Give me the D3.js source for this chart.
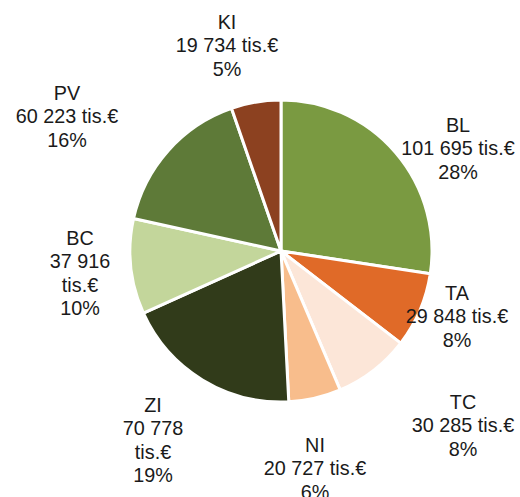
<!DOCTYPE html>
<html>
<head>
<meta charset="utf-8">
<script src="https://cdn.jsdelivr.net/npm/d3@7/dist/d3.min.js"></script>
<style>
  html, body { margin: 0; padding: 0; background: #fff; }
  svg { display: block; }
  text { font-family: "Liberation Sans", Arial, sans-serif; fill: #1a1a1a; }
</style>
</head>
<body>
<svg id="chart" width="520" height="497"></svg>
<script>
// Budget split by region (thousands of euro), clockwise from 12 o'clock
const regions = ["BL", "TA", "TC", "NI", "ZI", "BC", "PV", "KI"];
const amounts = [101695, 29848, 30285, 20727, 70778, 37916, 60223, 19734];
const amountText = ["101 695", "29 848", "30 285", "20 727", "70 778", "37 916", "60 223", "19 734"];
const shareText = ["28%", "8%", "8%", "6%", "19%", "10%", "16%", "5%"];
// whether the value and unit are wrapped onto separate lines
const wrapUnit = [false, false, false, false, true, true, false, false];

const colors = ["#7a9a41", "#e06a28", "#fce6d8", "#f8bd8c", "#313b1a", "#c3d69b", "#5e7a38", "#8c4120"];

// label anchor offsets from the pie centre (centre of first line)
const labelOffset = [
  [177, -126], [176, 42], [182, 151], [34, 194],
  [-128, 154], [-201, -13], [-214, -158], [-54, -229]
];

const width = 520, height = 497;
const cx = 281, cy = 251, radius = 151;
const lineH = 23.3;

const svg = d3.select("#chart");
const g = svg.append("g").attr("transform", `translate(${cx},${cy})`);

const data = regions.map((r, i) => ({ region: r, value: amounts[i], i }));

const pie = d3.pie().sort(null).value(d => d.value);
const arc = d3.arc().innerRadius(0).outerRadius(radius);

const color = d3.scaleOrdinal().domain(regions).range(colors);

g.selectAll("path.slice")
  .data(pie(data))
  .join("path")
  .attr("class", "slice")
  .attr("d", arc)
  .attr("fill", d => color(d.data.region))
  .attr("stroke", "#ffffff")
  .attr("stroke-width", 3)
  .attr("stroke-linejoin", "round");

const labels = g.selectAll("text.label")
  .data(data)
  .join("text")
  .attr("class", "label")
  .attr("text-anchor", "middle")
  .attr("font-size", 19.8)
  .attr("transform", d => `translate(${labelOffset[d.i][0]},${labelOffset[d.i][1]})`);

labels.each(function(d) {
  const lines = wrapUnit[d.i]
    ? [d.region, amountText[d.i], "tis.€", shareText[d.i]]
    : [d.region, amountText[d.i] + " tis.€", shareText[d.i]];
  d3.select(this).selectAll("tspan")
    .data(lines)
    .join("tspan")
    .attr("x", 0)
    .attr("y", (t, k) => k * lineH)
    .attr("dy", "0.35em")
    .text(t => t);
});
</script>
</body>
</html>
